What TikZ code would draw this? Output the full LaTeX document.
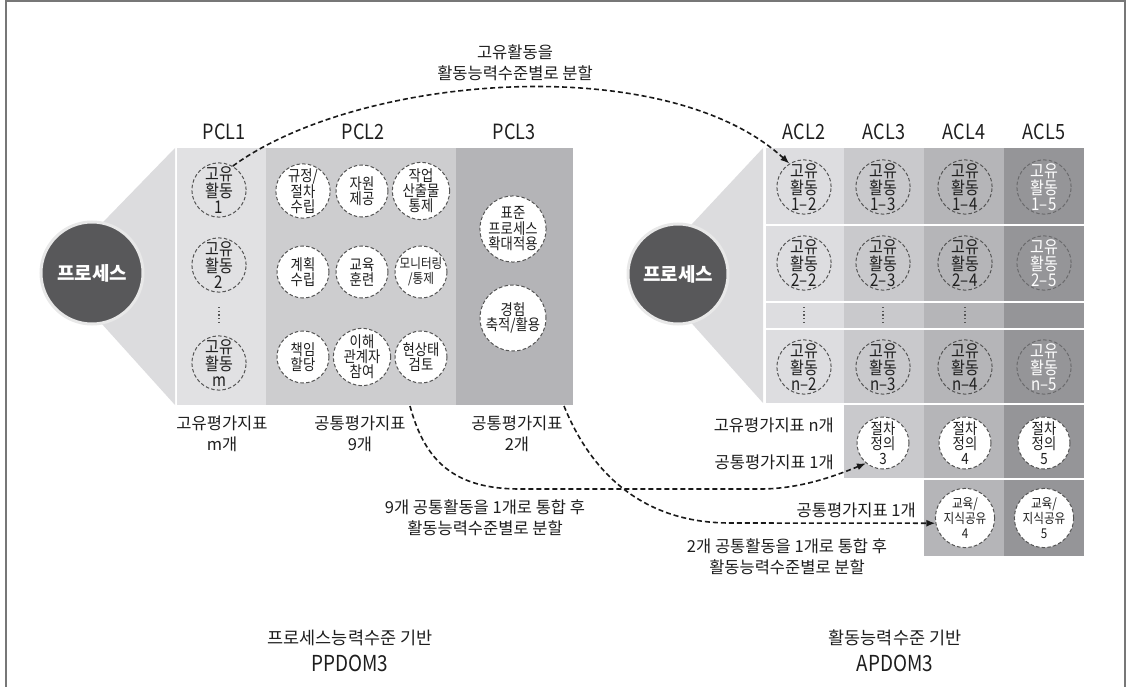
\documentclass[tikz,border=0pt]{standalone}
\usepackage{fontspec}
\setmainfont{Noto Sans CJK KR}
\newfontfamily\condf[FakeStretch=0.86]{Noto Sans CJK KR}
\usetikzlibrary{arrows.meta}
\definecolor{cFun}{HTML}{DCDCDE}
\definecolor{cPa}{HTML}{E1E1E3}
\definecolor{cPb}{HTML}{CDCDCF}
\definecolor{cPc}{HTML}{B4B4B7}
\definecolor{cAa}{HTML}{DDDDE0}
\definecolor{cAb}{HTML}{C9C9CC}
\definecolor{cAc}{HTML}{B5B5B8}
\definecolor{cAd}{HTML}{959598}
\definecolor{cDark}{HTML}{58585A}
\definecolor{cRing}{HTML}{E8E8E8}
\definecolor{cDash}{HTML}{555555}
\definecolor{cDashB}{HTML}{6A6A6C}
\definecolor{cTxt}{HTML}{1E1E1E}
\definecolor{cFrame}{HTML}{777777}
\definecolor{cArrow}{HTML}{1A1A1A}
\begin{document}
\begin{tikzpicture}[x=1pt,y=-1pt,
  every node/.style={text=cTxt},
  act/.style={circle, minimum size=52pt, inner sep=0pt, draw=cDash, line width=1pt,
    dash pattern=on 3.5pt off 2.2pt, align=center, font=\condf\fontsize{17.5}{15.8}\selectfont},
  wact/.style={act, fill=white, font=\condf\fontsize{15.5}{15}\selectfont},
  bigact/.style={wact, minimum size=66pt, font=\condf\fontsize{15.5}{15.5}\selectfont},
  acl5/.style={draw=cDashB, text=white},
  proc/.style={circle, fill=cDark, draw=cRing, line width=3pt, minimum size=102pt,
    inner sep=0pt, text=white, font=\fontsize{19}{19}\selectfont\bfseries},
  head/.style={font=\condf\fontsize{21}{21}\selectfont},
  lbl/.style={align=center, inner sep=0pt, font=\fontsize{16.5}{21}\selectfont},
  title/.style={align=center, inner sep=0pt, font=\fontsize{17.5}{17.5}\selectfont},
  code/.style={align=center, inner sep=0pt, font=\condf\fontsize{22}{22}\selectfont},
  vdots/.style={line width=1.5pt, draw=cDash, dash pattern=on 1.3pt off 2.4pt},
  conn/.style={line width=1.6pt, draw=cArrow, dash pattern=on 5pt off 3pt,
    -{Latex[length=9pt,width=7pt]}}
]
\useasboundingbox (0,0) rectangle (1127,687);
% frame
\draw[cFrame, line width=2pt] (6,690) -- (6,1.5) -- (1124.5,1.5) -- (1124.5,690);

% ---------- left side ----------
\fill[cFun] (175,148) -- (175,405) -- (92,313) -- (92,233.5) -- cycle;
\fill[cPa] (177,148) rectangle (266,405);
\fill[cPb] (266,148) rectangle (456,405);
\fill[cPc] (456,148) rectangle (573,405);
\node[proc] (procL) at (92,273) {프로세스};

\node[head] (hp1) at (224,132) {PCL1};
\node[head] (hp2) at (363,132) {PCL2};
\node[head] (hp3) at (514,132) {PCL3};

\node[act] (pa1) at (219,190) {고유\\활동\\1};
\node[act] (pa2) at (219,265) {고유\\활동\\2};
\node[act] (pam) at (219,363) {고유\\활동\\m};
\draw[vdots] (219,307) -- (219,323);

\node[wact] (q11) at (303,191) {규정/\\절차\\수립};
\node[wact] (q12) at (362,191) {자원\\제공};
\node[wact] (q13) at (421,191) {작업\\산출물\\통제};
\node[wact] (q21) at (303,272) {계획\\수립};
\node[wact] (q22) at (362,272) {교육\\훈련};
\node[wact, font=\condf\fontsize{13.5}{15}\selectfont] (q23) at (421,272) {모니터링\\/통제};
\node[wact] (q31) at (303,357) {책임\\할당};
\node[wact] (q32) at (362,357) {이해\\관계자\\참여};
\node[wact] (q33) at (421,357) {현상태\\검토};

\node[bigact] (s1) at (513,229) {표준\\프로세스\\확대적용};
\node[bigact] (s2) at (513,318) {경험\\축적/활용};

\node[lbl] (l1) at (222,433.5) {고유평가지표\\m개};
\node[lbl] (l2) at (360,433.5) {공통평가지표\\9개};
\node[lbl] (l3) at (517,433.5) {공통평가지표\\2개};

% ---------- right side ----------
\fill[cFun] (763,148) -- (763,403) -- (678,308) -- (678,239) -- cycle;
\foreach \xa/\xb/\cc in {766/844/cAa, 844/924/cAb, 924/1004/cAc, 1004/1084/cAd}{
  \foreach \ya/\yb in {148/224, 226/301, 303/328, 330/403}{
    \fill[\cc] (\xa,\ya) rectangle (\xb,\yb);
  }
}
\foreach \xa/\xb/\cc in {844/924/cAb, 924/1004/cAc, 1004/1084/cAd}{
  \fill[\cc] (\xa,405) rectangle (\xb,478);
}
\foreach \xa/\xb/\cc in {924/1004/cAc, 1004/1084/cAd}{
  \fill[\cc] (\xa,480) rectangle (\xb,556);
}
\node[proc, minimum size=100pt] (procR) at (678,274) {프로세스};

\node[head] (ha2) at (804,132) {ACL2};
\node[head] (ha3) at (884,132) {ACL3};
\node[head] (ha4) at (964,132) {ACL4};
\node[head] (ha5) at (1044,132) {ACL5};

\foreach \ri/\yy in {1/187, 2/263, n/367}{
  \foreach \ci/\xx in {2/804, 3/883, 4/965}{
    \node[act] (b\ri\ci) at (\xx,\yy) {고유\\활동\\\ri–\ci};
  }
  \node[act, acl5] (b\ri5) at (1044,\yy) {고유\\활동\\\ri–5};
}
\draw[vdots] (804,307) -- (804,323);
\draw[vdots] (883,307) -- (883,323);
\draw[vdots] (965,307) -- (965,323);

\node[wact] (p3) at (883,443) {절차\\정의\\3};
\node[wact] (p4) at (965,443) {절차\\정의\\4};
\node[wact] (p5) at (1044,443) {절차\\정의\\5};
\node[wact, font=\condf\fontsize{13.5}{15}\selectfont] (e4) at (965,518) {교육/\\지식공유\\4};
\node[wact, font=\condf\fontsize{13.5}{15}\selectfont] (e5) at (1044,518) {교육/\\지식공유\\5};

\node[lbl, anchor=east] (r1) at (834,425) {고유평가지표 n개};
\node[lbl, anchor=east] (r2) at (834,462) {공통평가지표 1개};
\node[lbl, anchor=east] (r3) at (916,510) {공통평가지표 1개};

% ---------- connector labels ----------
\node[lbl] (t1) at (515,62.5) {고유활동을\\활동능력수준별로 분할};
\node[lbl] (t2) at (485,518) {9개 공통활동을 1개로 통합 후\\활동능력수준별로 분할};
\node[lbl] (t3) at (787,556.5) {2개 공통활동을 1개로 통합 후\\활동능력수준별로 분할};

% ---------- connectors ----------
\coordinate (sA) at (410,406);
\coordinate (sB) at (564,406);
\draw[conn] (pa1.60) .. controls (358,74.5) and (665,49.5) .. (b12.122);
\draw[conn] (sA) .. controls (425,462) and (455,489) .. (520,489) -- (760,489)
  .. controls (800,489) and (835,476) .. (p3.230);
\draw[conn] (sB) .. controls (590,470) and (640,523) .. (730,523) -- (e4.190);

% ---------- titles ----------
\node[title] (bt1) at (350,638) {프로세스능력수준 기반};
\node[code] (bc1) at (350,663) {PPDOM3};
\node[title] (bt2) at (895,638) {활동능력수준 기반};
\node[code] (bc2) at (895,663) {APDOM3};
\end{tikzpicture}
\end{document}
